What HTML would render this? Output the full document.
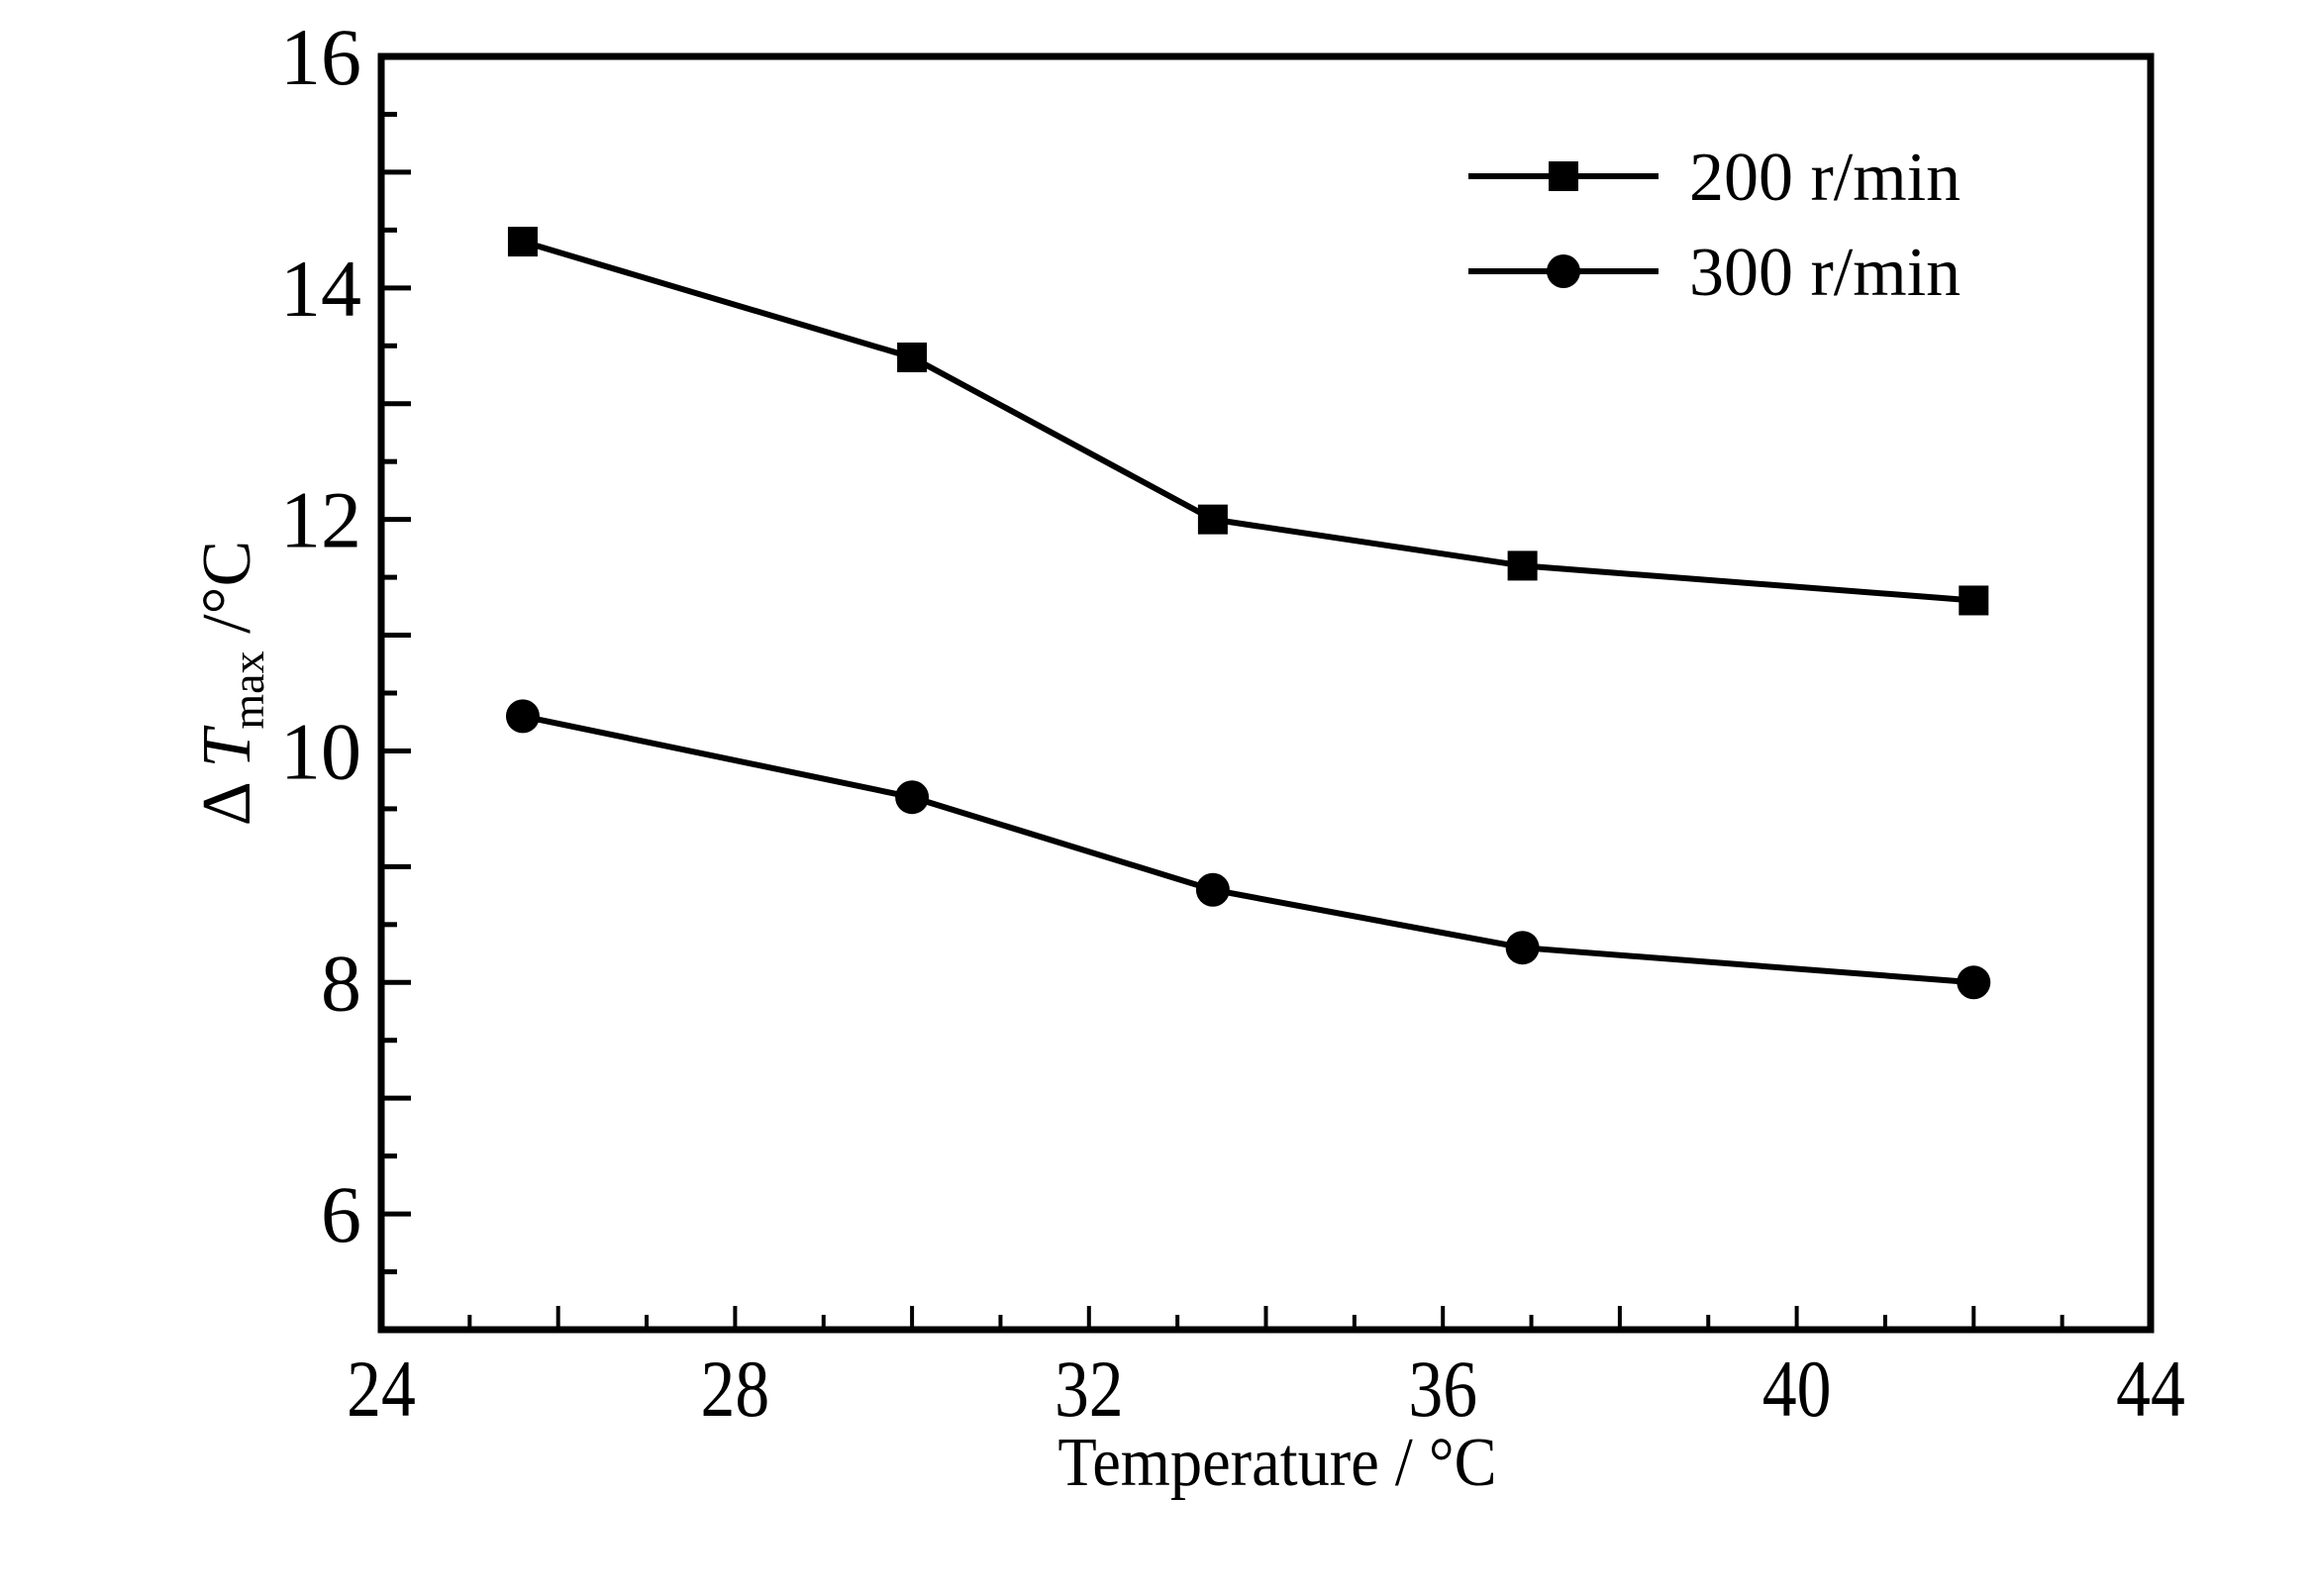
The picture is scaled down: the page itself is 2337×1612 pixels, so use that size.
<!DOCTYPE html>
<html><head><meta charset="utf-8"><style>
html,body{margin:0;padding:0;background:#fff;}
svg text{font-family:"Liberation Serif","DejaVu Serif",serif;fill:#000;}
</style></head><body>
<svg id="chart" width="2337" height="1607" viewBox="0 0 2337 1607" xmlns="http://www.w3.org/2000/svg">
<g id="ticks"></g>
<g id="series"></g>
<rect x="385" y="57" width="1787" height="1286" fill="none" stroke="#000" stroke-width="7"/>
<text x="1290" y="1500" font-size="70" text-anchor="middle" transform="translate(1290,0) scale(0.92,1) translate(-1290,0)">Temperature / °C</text>
<text transform="translate(252,690) rotate(-90)" font-size="70" text-anchor="middle">Δ <tspan font-style="italic">T</tspan><tspan font-size="46" dy="14">max</tspan><tspan dy="-14"> /°C</tspan></text>
<g>
<line x1="1483" y1="178" x2="1675" y2="178" stroke="#000" stroke-width="6"/>
<rect x="1564" y="163" width="30" height="30" fill="#000"/>
<text x="1706" y="202" font-size="70">200 r/min</text>
<line x1="1483" y1="274" x2="1675" y2="274" stroke="#000" stroke-width="6"/>
<circle cx="1579" cy="274" r="17" fill="#000"/>
<text x="1706" y="298" font-size="70">300 r/min</text>
</g>
</svg>
<script>
const temps = [25.6, 30.0, 33.4, 36.9, 42.0];
const s200 = [14.4, 13.4, 12.0, 11.6, 11.3];
const s300 = [10.3, 9.6, 8.8, 8.3, 8.0];
const xTickLabels = [24, 28, 32, 36, 40, 44];
const yTickLabels = [6, 8, 10, 12, 14, 16];
const NS='http://www.w3.org/2000/svg';
const L=385,R=2172,T=57,B=1343,xmin=24,xmax=44,ymin=5,ymax=16;
const xs=v=>L+(v-xmin)/(xmax-xmin)*(R-L);
const ys=v=>B-(v-ymin)/(ymax-ymin)*(B-T);
function mk(tag,attrs,parent){const e=document.createElementNS(NS,tag);for(const k in attrs)e.setAttribute(k,attrs[k]);parent.appendChild(e);return e;}
const tg=document.getElementById('ticks');
for(let v=xmin+1;v<xmax;v++){
  const len=(v%2===0)?24:15;
  const t=mk('line',{x1:xs(v),x2:xs(v),y1:B,y2:B-len,stroke:'#000','stroke-width':4},tg);
  
  
}
for(let v=ymin+0.5;v<ymax;v+=0.5){
  const len=(Math.abs(v-Math.round(v))<0.01)?30:16;
  const t=mk('line',{x1:L,x2:L+len,y1:ys(v),y2:ys(v),stroke:'#000','stroke-width':5},tg);
  
  
}
xTickLabels.forEach(v=>{
  const t=mk('text',{x:xs(v),y:1430,'font-size':82,'text-anchor':'middle',transform:`translate(${xs(v)},0) scale(0.85,1) translate(${-xs(v)},0)`},tg);
  t.textContent=v;
  
  
});
yTickLabels.forEach(v=>{
  const t=mk('text',{x:365,y:ys(v)+28,'font-size':82,'text-anchor':'end'},tg);
  t.textContent=v;
  
  
});
const sg=document.getElementById('series');
function drawSeries(vals,shape,name){
  const pts=temps.map((x,i)=>xs(x)+','+ys(vals[i])).join(' ');
  const pl=mk('polyline',{points:pts,fill:'none',stroke:'#000','stroke-width':6},sg);
  
  
  temps.forEach((x,i)=>{
    let m;
    if(shape==='square') m=mk('rect',{x:xs(x)-15,y:ys(vals[i])-15,width:30,height:30,fill:'#000'},sg);
    else m=mk('circle',{cx:xs(x),cy:ys(vals[i]),r:17,fill:'#000'},sg);
    
    
  });
}
drawSeries(s200,'square','series-200');
drawSeries(s300,'circle','series-300');
</script>
</body></html>
